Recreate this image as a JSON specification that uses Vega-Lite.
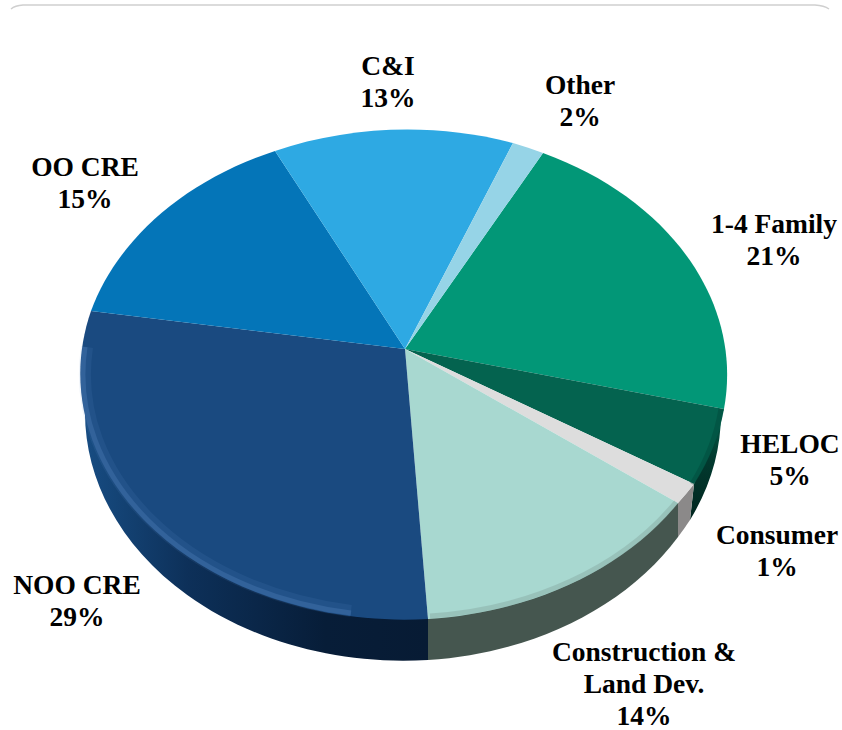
{
"$schema":"https://vega.github.io/schema/vega-lite/v6.json",
"width":842,"height":730,"padding":0,
"autosize":{"type":"none"},
"background":"white",
"config":{"view":{"stroke":null}},
"datasets":{"slices":[
{"category":"1-4 Family","share":21,"label":"1-4 Family\n21%"},
{"category":"HELOC","share":5,"label":"HELOC\n5%"},
{"category":"Consumer","share":1,"label":"Consumer\n1%"},
{"category":"Construction & Land Dev.","share":14,"label":"Construction &\nLand Dev.\n14%"},
{"category":"NOO CRE","share":29,"label":"NOO CRE\n29%"},
{"category":"OO CRE","share":15,"label":"OO CRE\n15%"},
{"category":"C&I","share":13,"label":"C&I\n13%"},
{"category":"Other","share":2,"label":"Other\n2%"}
]},
"data":{"name":"slices"},
"layer":[
{"data":{"values":[{"part":"frame"}]},
 "mark":{"type":"point","filled":false,"size":4,"opacity":1,"stroke":"#cfcfcf","strokeWidth":1.5},
 "encoding":{"shape":{"field":"part","type":"nominal","legend":null,"scale":{"domain":["frame"],"range":["M-410,-356 Q-406,-359.5 -398,-360 L394,-360 Q403,-359.5 408,-356"]}}}},
{"transform":[{"filter":"datum.category==='NOO CRE'"}],
 "mark":{"type":"point","filled":true,"size":4,"opacity":1,"fill":{"gradient":"linear","x1":0,"y1":0,"x2":1,"y2":0,"stops":[{"offset":0,"color":"#174c82"},{"offset":0.3,"color":"#0d3059"},{"offset":0.7,"color":"#071d38"},{"offset":1,"color":"#071b34"}]}},
 "encoding":{"shape":{"field":"category","type":"nominal","legend":null,"scale":{"domain":["NOO CRE"],"range":["M7,254 L7,295 A318 248 0 0 1 -336,48 L-300,9 Z"]}}}},
{"transform":[{"filter":"datum.category==='HELOC'"}],
 "mark":{"type":"point","filled":true,"size":4,"opacity":1,"fill":{"gradient":"linear","x1":0,"y1":0,"x2":0,"y2":1,"stops":[{"offset":0,"color":"#05604d"},{"offset":0.45,"color":"#023a2f"},{"offset":1,"color":"#00251f"}]}},
 "encoding":{"shape":{"field":"category","type":"nominal","legend":null,"scale":{"domain":["HELOC"],"range":["M303,44 L300,48 A318 248 0 0 1 269,155 L273,119 Z"]}}}},
{"transform":[{"filter":"datum.category==='Construction & Land Dev.' || datum.category==='Consumer'"}],
 "mark":{"type":"point","filled":true,"size":4,"opacity":1},
 "encoding":{
  "shape":{"field":"category","type":"nominal","legend":null,"scale":{"domain":["Construction & Land Dev.","Consumer"],"range":["M7,254 L7,295 A318 248 0 0 0 257,172 L257,138 Z","M273,119 L269,155 A318 248 0 0 1 257,172 L257,138 Z"]}},
  "color":{"field":"category","type":"nominal","legend":null,"scale":{"domain":["Construction & Land Dev.","Consumer"],"range":["#45564f","#8b8989"]}}}},
{"mark":{"type":"point","filled":true,"size":4,"opacity":1},
 "encoding":{
  "shape":{"field":"category","type":"nominal","legend":null,"scale":{"domain":["1-4 Family","HELOC","Consumer","Construction & Land Dev.","NOO CRE","OO CRE","C&I","Other"],
   "range":[
    "M-16,-16 L122,-212 A324 246 0 0 1 303,44 Z",
    "M-16,-16 L303,44 A324 246 0 0 1 273,119 Z",
    "M-16,-16 L273,119 A324 246 0 0 1 257,138 Z",
    "M-16,-16 L257,138 A324 246 0 0 1 7,254 Z",
    "M-16,-16 L7,254 A324 246 0 0 1 -330,-54 Z",
    "M-16,-16 L-330,-54 A324 246 0 0 1 -146,-214 Z",
    "M-16,-16 L-146,-214 A324 246 0 0 1 92,-222 Z",
    "M-16,-16 L92,-222 A324 246 0 0 1 122,-212 Z"]}},
  "color":{"field":"category","type":"nominal","legend":null,"scale":{"domain":["1-4 Family","HELOC","Consumer","Construction & Land Dev.","NOO CRE","OO CRE","C&I","Other"],
   "range":["#029777","#04634f","#dddddd","#a8d8d0","#1a4a80","#0475b8","#2ea9e3","#96d4e7"]}}}},
{"transform":[{"filter":"datum.category==='NOO CRE'"}],
 "mark":{"type":"point","filled":false,"size":4,"opacity":0.1,"stroke":"#6a9ad6","strokeWidth":12},
 "encoding":{"shape":{"field":"category","type":"nominal","legend":null,"scale":{"domain":["NOO CRE"],"range":["M-70,246 A318 240 0 0 1 -334,-18"]}}}},
{"transform":[{"filter":"datum.category==='NOO CRE'"}],
 "mark":{"type":"point","filled":false,"size":4,"opacity":0.22,"stroke":"#6a9ad6","strokeWidth":5},
 "encoding":{"shape":{"field":"category","type":"nominal","legend":null,"scale":{"domain":["NOO CRE"],"range":["M-70,248 A320 242 0 0 1 -336,-18"]}}}},
{"transform":[{"filter":"datum.category==='Construction & Land Dev.' || datum.category==='HELOC'"}],
 "mark":{"type":"point","filled":false,"size":4,"opacity":0.35,"strokeWidth":5},
 "encoding":{
  "shape":{"field":"category","type":"nominal","legend":null,"scale":{"domain":["Construction & Land Dev.","HELOC"],"range":["M9,251 A321 243 0 0 0 255,137","M300,44 A322 244 0 0 1 271,119"]}},
  "stroke":{"field":"category","type":"nominal","legend":null,"scale":{"domain":["Construction & Land Dev.","HELOC"],"range":["#7d9a94","#013f33"]}}}},
{"mark":{"type":"text","font":"Liberation Serif","fontWeight":"bold","fontSize":27.5,"lineHeight":32,"lineBreak":"\n","align":"center","baseline":"middle","color":"#000000"},
 "encoding":{
  "text":{"field":"label","type":"nominal"},
  "x":{"field":"share","type":"quantitative","axis":null,"scale":{"zero":false,"nice":false,"domain":[1,2,5,13,14,15,21,29],"range":[777,580,790,388,644,85,774,77]}},
  "y":{"field":"share","type":"quantitative","axis":null,"scale":{"zero":false,"nice":false,"domain":[1,2,5,13,14,15,21,29],"range":[536,86,445,67,653,168,225,586]}}}}
],
"resolve":{"scale":{"shape":"independent","color":"independent","stroke":"independent"}}
}
